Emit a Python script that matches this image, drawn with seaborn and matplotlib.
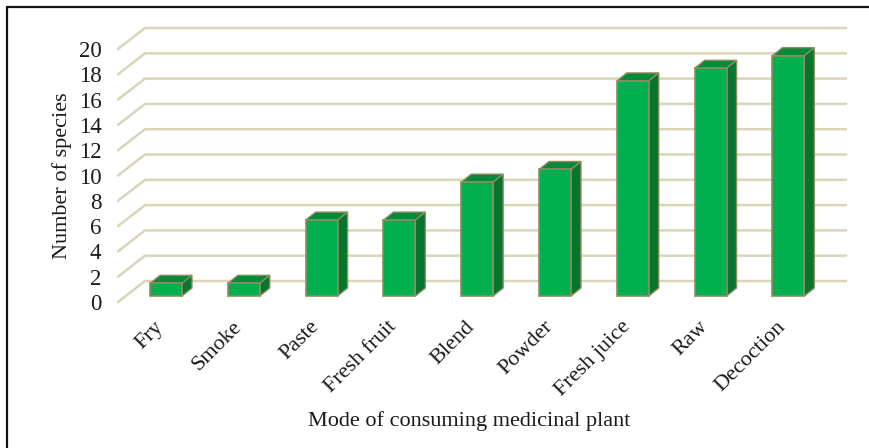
import matplotlib
matplotlib.use("Agg")
import matplotlib.pyplot as plt
import matplotlib.transforms as mtrans
import seaborn as sns
import pandas as pd
from matplotlib.lines import Line2D
from matplotlib.patches import Polygon

categories = ["Fry", "Smoke", "Paste", "Fresh fruit", "Blend", "Powder",
              "Fresh juice", "Raw", "Decoction"]
species = [1, 1, 6, 6, 9, 10, 17, 18, 19]
y_ticks = list(range(0, 21, 2))

FRONT = "#00B050"
SIDE = "#06752F"
TOP = "#05893A"
EDGE = "#8F8C5E"
GRID = "#D9D5B8"
TEXT = "#1A1A1A"
W, H = 870, 448

sns.set_theme(style="white")
plt.rcParams["font.family"] = ["Liberation Serif", "DejaVu Serif"]

fig = plt.figure(figsize=(W / 100, H / 100), dpi=100)

# Axes span the floor's front-left corner to the back wall's top-right corner (pixels)
x_left, x_right, y_floor, y_top = 118, 846, 302, 28
ax = fig.add_axes([x_left / W, 1 - y_floor / H,
                   (x_right - x_left) / W, (y_floor - y_top) / H])

px_per_cat = 77.8
px_per_unit = 12.65
ax.set_xlim((x_left - 166) / px_per_cat, (x_right - 166) / px_per_cat)
ax.set_ylim(0, (y_floor - y_top) / px_per_unit)

# Oblique projection offsets, in data units
wall_dx, wall_dy = 27 / px_per_cat, 21 / px_per_unit
bar_dx, bar_dy = 10 / px_per_cat, 8 / px_per_unit
bar_lift = 6 / px_per_unit

# Wall gridlines with their receding floor-side segments
x0 = ax.get_xlim()[0]
x1 = ax.get_xlim()[1]
for t in y_ticks:
    ax.plot([x0, x0 + wall_dx, x1], [t, t + wall_dy, t + wall_dy],
            color=GRID, lw=1.8, zorder=1, clip_on=False, solid_joinstyle="miter")

df = pd.DataFrame({"mode": categories, "species": species})
sns.barplot(data=df, x="mode", y="species", ax=ax, color=FRONT, saturation=1,
            width=0.41, bottom=bar_lift, edgecolor=EDGE, linewidth=1.2, zorder=4)

# Extrude each bar with a top and a side face
for rect in list(ax.patches):
    xa, xb = rect.get_x(), rect.get_x() + rect.get_width()
    yb, yt = rect.get_y(), rect.get_y() + rect.get_height()
    ax.add_patch(Polygon([(xa, yt), (xa + bar_dx, yt + bar_dy),
                          (xb + bar_dx, yt + bar_dy), (xb, yt)],
                         facecolor=TOP, edgecolor=EDGE, lw=1.0, zorder=3))
    ax.add_patch(Polygon([(xb, yb), (xb + bar_dx, yb + bar_dy),
                          (xb + bar_dx, yt + bar_dy), (xb, yt)],
                         facecolor=SIDE, edgecolor=EDGE, lw=1.0, zorder=3))

ax.set_xlim(x0, x1)
for s in ax.spines.values():
    s.set_visible(False)

ax.set_yticks(y_ticks)
ax.tick_params(axis="y", length=0, pad=12, labelsize=16.5, labelcolor=TEXT)
ax.tick_params(axis="x", length=0, pad=11, labelsize=16, labelcolor=TEXT)
ax.set_xticks(range(len(categories)))
ax.set_xticklabels(categories, rotation=45, ha="right", rotation_mode="anchor")

# Pull the slanted category labels left of their bars
nudge = mtrans.ScaledTranslation(-12 / 100, 0, fig.dpi_scale_trans)
for lab in ax.get_xticklabels():
    lab.set_transform(lab.get_transform() + nudge)

ax.set_xlabel("")
ax.set_ylabel("")
fig.text(469 / W, 1 - 421 / H, "Mode of consuming medicinal plant",
         ha="center", va="center", fontsize=16, color=TEXT)
fig.text(62 / W, 1 - 176 / H, "Number of species", rotation=90,
         ha="center", va="center", fontsize=16, color=TEXT)

# Frame lines along the top and left of the figure
fig.add_artist(Line2D([7.5 / W, 7.5 / W], [0, 1 - 7 / H], color="#111111", lw=1.6))
fig.add_artist(Line2D([7 / W, 1], [1 - 7 / H, 1 - 7 / H], color="#111111", lw=1.6))

fig.savefig("out.png", dpi=100)
